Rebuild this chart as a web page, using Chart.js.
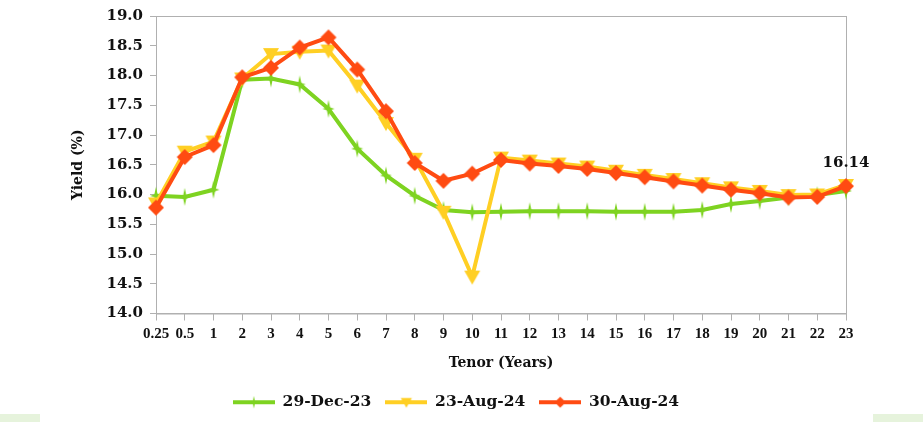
<!DOCTYPE html>
<html>
<head>
<meta charset="utf-8">
<script src="https://cdn.jsdelivr.net/npm/chart.js@4"></script>
<style>
  html, body { margin: 0; padding: 0; background: #fff; }
  #wrap { position: relative; width: 923px; height: 422px; }
  .corner { position: absolute; top: 414px; height: 8px; background: #e6f3dc; }
</style>
</head>
<body>
<div id="wrap">
  <canvas id="chart" width="923" height="422"></canvas>
  <div class="corner" style="left:0;width:40px"></div>
  <div class="corner" style="left:873px;width:50px"></div>
</div>
<script>
var tenors = ['0.25', '0.5', '1', '2', '3', '4', '5', '6', '7', '8', '9', '10', '11',
              '12', '13', '14', '15', '16', '17', '18', '19', '20', '21', '22', '23'];

var dec23 = [15.98, 15.96, 16.08, 17.93, 17.95, 17.85, 17.44, 16.77, 16.32, 15.98, 15.74, 15.70, 15.71,
             15.72, 15.72, 15.72, 15.71, 15.71, 15.71, 15.74, 15.84, 15.89, 15.95, 15.99, 16.06];
var aug23 = [15.85, 16.72, 16.89, 17.95, 18.36, 18.40, 18.42, 17.83, 17.20, 16.60, 15.71, 14.62, 16.62,
             16.57, 16.52, 16.47, 16.40, 16.33, 16.26, 16.19, 16.12, 16.06, 15.99, 16.00, 16.16];
var aug30 = [15.78, 16.63, 16.83, 17.97, 18.13, 18.47, 18.64, 18.10, 17.40, 16.53, 16.23, 16.35, 16.58,
             16.52, 16.48, 16.43, 16.36, 16.29, 16.22, 16.15, 16.08, 16.02, 15.95, 15.96, 16.14];

var seriesNames = ['29-Dec-23', '23-Aug-24', '30-Aug-24'];
var yTicks = [14.0, 14.5, 15.0, 15.5, 16.0, 16.5, 17.0, 17.5, 18.0, 18.5, 19.0];

var GREEN = '#7ed321', YELLOW = '#ffcf24', RED = '#ff4b12';
var AXIS = '#b0b0b0';

// marker shapes drawn into small canvases
function drawShape(g, kind, cx, cy, s) {
  g.beginPath();
  if (kind === 'star') {
    g.moveTo(cx, cy - 9 * s);
    g.lineTo(cx + 1.6 * s, cy - 1.6 * s);
    g.lineTo(cx + 6 * s, cy);
    g.lineTo(cx + 1.6 * s, cy + 1.6 * s);
    g.lineTo(cx, cy + 9 * s);
    g.lineTo(cx - 1.6 * s, cy + 1.6 * s);
    g.lineTo(cx - 6 * s, cy);
    g.lineTo(cx - 1.6 * s, cy - 1.6 * s);
  } else if (kind === 'tri') {
    g.moveTo(cx - 8 * s, cy - 6 * s);
    g.lineTo(cx + 8 * s, cy - 6 * s);
    g.lineTo(cx, cy + 8 * s);
  } else {
    g.moveTo(cx, cy - 8 * s);
    g.lineTo(cx + 8 * s, cy);
    g.lineTo(cx, cy + 8 * s);
    g.lineTo(cx - 8 * s, cy);
  }
  g.closePath();
  g.fill();
}

function marker(kind, color) {
  var c = document.createElement('canvas');
  c.width = 20; c.height = 20;
  var g = c.getContext('2d');
  g.fillStyle = color;
  drawShape(g, kind, 10, 10, 1);
  return c;
}

function legendIcon(kind, color) {
  var c = document.createElement('canvas');
  c.width = 42; c.height = 18;
  var g = c.getContext('2d');
  g.strokeStyle = color;
  g.lineWidth = 4;
  g.beginPath(); g.moveTo(0, 9); g.lineTo(42, 9); g.stroke();
  g.fillStyle = color;
  drawShape(g, kind, 21, 9, 0.7);
  return c;
}

var kinds = ['star', 'tri', 'diamond'];
var colors = [GREEN, YELLOW, RED];

function dataset(i, values) {
  return {
    label: seriesNames[i],
    data: values,
    borderColor: colors[i],
    backgroundColor: colors[i],
    borderWidth: 4,
    tension: 0,
    pointStyle: marker(kinds[i], colors[i]),
    order: 3 - i
  };
}

// plot frame (top and right edges included)
var framePlugin = {
  id: 'frame',
  beforeDatasetsDraw: function(chart) {
    var a = chart.chartArea, ctx = chart.ctx;
    ctx.save();
    ctx.strokeStyle = AXIS;
    ctx.lineWidth = 1;
    ctx.strokeRect(a.left + 0.5, a.top + 0.5, a.right - a.left, a.bottom - a.top);
    ctx.restore();
  }
};

// value label on the last point of the latest curve
var lastLabelPlugin = {
  id: 'lastLabel',
  afterDatasetsDraw: function(chart) {
    var meta = chart.getDatasetMeta(2);
    var pt = meta.data[meta.data.length - 1];
    var ctx = chart.ctx;
    ctx.save();
    ctx.font = 'bold 15px "DejaVu Serif"';
    ctx.fillStyle = '#111';
    ctx.textAlign = 'center';
    ctx.textBaseline = 'middle';
    ctx.fillText(aug30[aug30.length - 1].toFixed(2), pt.x, pt.y - 23);
    ctx.restore();
  }
};

new Chart(document.getElementById('chart'), {
  type: 'line',
  data: {
    labels: tenors,
    datasets: [dataset(0, dec23), dataset(1, aug23), dataset(2, aug30)]
  },
  options: {
    responsive: false,
    animation: false,
    events: [],
    layout: { padding: { left: 66, right: 77, top: 16, bottom: 2 } },
    plugins: {
      tooltip: { enabled: false },
      legend: {
        position: 'bottom',
        labels: {
          usePointStyle: true,
          pointStyleWidth: 42,
          padding: 14,
          color: '#111',
          font: { family: '"DejaVu Serif"', size: 15.5, weight: 'bold' },
          generateLabels: function(chart) {
            return seriesNames.map(function(name, i) {
              return {
                text: name,
                pointStyle: legendIcon(kinds[i], colors[i]),
                fillStyle: colors[i],
                strokeStyle: colors[i],
                lineWidth: 0,
                datasetIndex: i,
                fontColor: '#111'
              };
            });
          }
        }
      }
    },
    scales: {
      x: {
        offset: false,
        grid: { display: true, drawOnChartArea: false, offset: false, color: AXIS, tickLength: 7 },
        border: { color: AXIS },
        ticks: {
          autoSkip: false, maxRotation: 0, padding: 5, color: '#111',
          font: { family: '"Liberation Serif"', size: 15, weight: 'bold' }
        },
        title: {
          display: true, text: 'Tenor (Years)', color: '#111',
          font: { family: '"DejaVu Serif"', size: 14, weight: 'bold' },
          padding: { top: 0, bottom: 8.6 }
        },
        afterFit: function(scale) { scale.height = 67; }
      },
      y: {
        min: 14, max: 19,
        afterBuildTicks: function(scale) {
          scale.ticks = yTicks.map(function(v) { return { value: v }; });
        },
        grid: { display: true, drawOnChartArea: false, color: AXIS, tickLength: 6 },
        border: { color: AXIS },
        ticks: {
          padding: 7, color: '#111',
          font: { family: '"DejaVu Serif"', size: 15, weight: 'bold' },
          callback: function(v) { return Number(v).toFixed(1); }
        },
        title: {
          display: true, text: 'Yield (%)', color: '#111',
          font: { family: '"DejaVu Serif"', size: 14, weight: 'bold' },
          padding: { top: 4, bottom: 0 }
        },
        afterFit: function(scale) { scale.width = 90; }
      }
    }
  },
  plugins: [framePlugin, lastLabelPlugin]
});
</script>
</body>
</html>
